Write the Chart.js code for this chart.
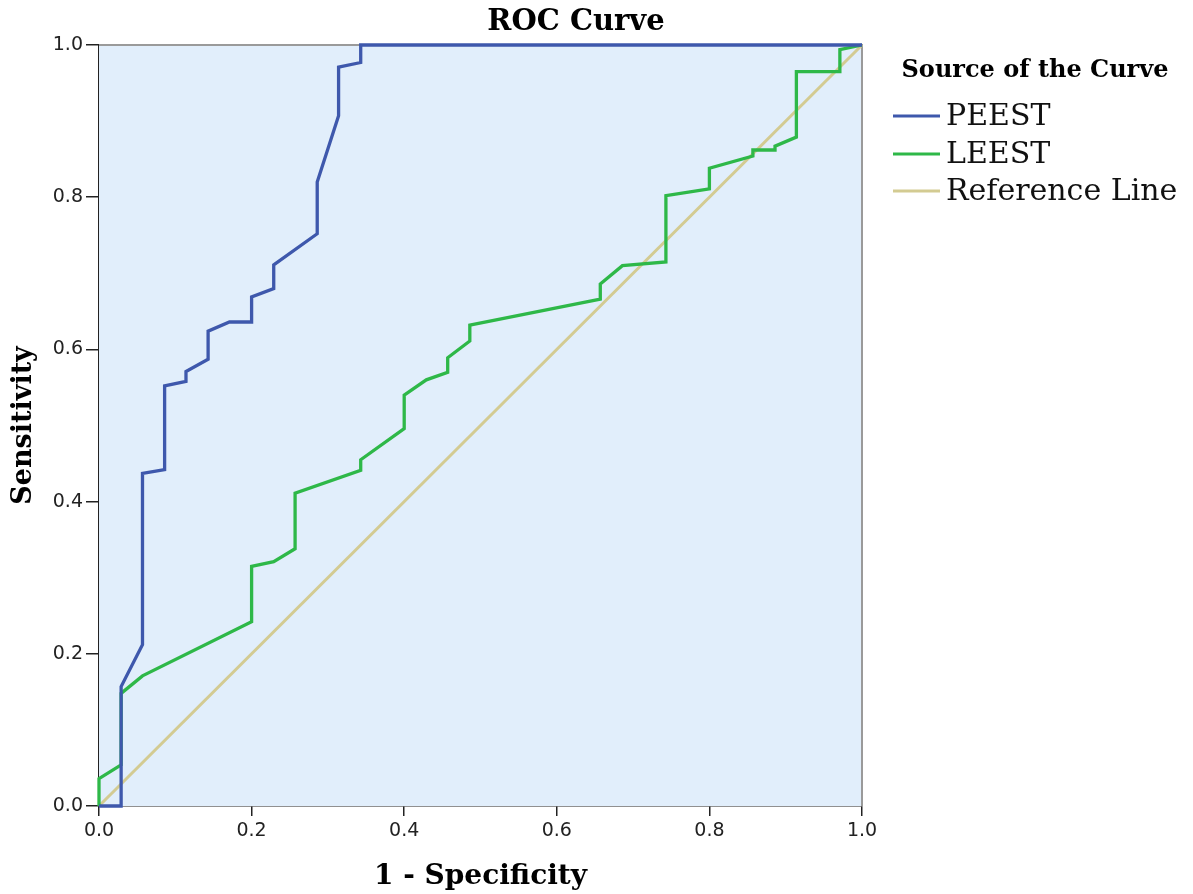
<!DOCTYPE html>
<html>
<head>
<meta charset="utf-8">
<title>ROC Curve</title>
<script src="https://cdn.jsdelivr.net/npm/chart.js@4.4.1/dist/chart.umd.min.js"></script>
<style>
  html, body { margin: 0; padding: 0; background: #fff; }
</style>
</head>
<body>
<canvas id="roc" width="1193" height="894"></canvas>
<script>
// values
const chartTitle = 'ROC Curve';
const legendTitle = 'Source of the Curve';
const xTitle = '1 - Specificity';
const yTitle = 'Sensitivity';
const tickValues = [0, 0.2, 0.4, 0.6, 0.8, 1.0];

const peestX = [0, 0.029, 0.029, 0.057, 0.057, 0.086, 0.086, 0.114, 0.114, 0.143, 0.143, 0.171, 0.2, 0.2, 0.229, 0.229, 0.286, 0.286, 0.314, 0.314, 0.343, 0.343, 1];
const peestY = [0, 0, 0.157, 0.212, 0.437, 0.442, 0.552, 0.558, 0.571, 0.587, 0.624, 0.636, 0.636, 0.669, 0.680, 0.711, 0.752, 0.820, 0.907, 0.971, 0.977, 1, 1];

const leestX = [0, 0, 0.029, 0.029, 0.057, 0.2, 0.2, 0.229, 0.257, 0.257, 0.343, 0.343, 0.4, 0.4, 0.429, 0.457, 0.457, 0.486, 0.486, 0.657, 0.657, 0.686, 0.743, 0.743, 0.8, 0.8, 0.857, 0.857, 0.886, 0.886, 0.914, 0.914, 0.971, 0.971, 1];
const leestY = [0, 0.036, 0.054, 0.148, 0.171, 0.242, 0.315, 0.321, 0.338, 0.411, 0.441, 0.455, 0.496, 0.540, 0.560, 0.570, 0.589, 0.611, 0.632, 0.666, 0.686, 0.710, 0.715, 0.802, 0.811, 0.838, 0.854, 0.862, 0.862, 0.867, 0.879, 0.965, 0.965, 0.994, 1];

const refX = [0, 1];
const refY = [0, 1];

const seriesNames = ['PEEST', 'LEEST', 'Reference Line'];
const seriesColors = ['#3E58AC', '#2EB848', '#D3CB92'];

function pts(xs, ys) {
    return xs.map((x, i) => ({ x: x, y: ys[i] }));
}

const serif = '"DejaVu Serif", "Liberation Serif", serif';
const sans = '"DejaVu Sans", "Liberation Sans", sans-serif';

// background, frame, title and legend
const decor = {
    id: 'decor',
    beforeDatasetsDraw(chart) {
        const c = chart.ctx;
        const a = chart.chartArea;
        c.save();
        c.fillStyle = '#E1EEFB';
        c.fillRect(a.left, a.top, a.right - a.left, a.bottom - a.top);
        c.strokeStyle = '#9A9A9A';
        c.lineWidth = 2;
        c.beginPath();
        c.moveTo(a.left, a.top);
        c.lineTo(a.right, a.top);
        c.lineTo(a.right, a.bottom);
        c.stroke();
        c.restore();
    },
    afterDraw(chart) {
        const c = chart.ctx;
        c.save();
        c.fillStyle = '#000';
        c.textAlign = 'center';
        c.textBaseline = 'middle';
        c.font = 'bold 29px ' + serif;
        c.fillText(chartTitle, 576, 22);

        c.font = 'bold 24px ' + serif;
        c.fillText(legendTitle, 1035, 71);

        c.textAlign = 'left';
        c.font = '30px ' + serif;
        const rows = [116, 154, 191];
        chart.data.datasets.forEach((ds, i) => {
            c.strokeStyle = ds.borderColor;
            c.lineWidth = 3;
            c.beginPath();
            c.moveTo(893, rows[i]);
            c.lineTo(940, rows[i]);
            c.stroke();
            c.fillStyle = '#111';
            c.fillText(ds.label, 946, rows[i] + 1);
        });
        c.restore();
    }
};

const ctx = document.getElementById('roc').getContext('2d');
const rocChart = new Chart(ctx, {
    type: 'scatter',
    data: {
        datasets: [
            { label: seriesNames[0], data: pts(peestX, peestY), borderColor: seriesColors[0], borderWidth: 3.3, order: 1 },
            { label: seriesNames[1], data: pts(leestX, leestY), borderColor: seriesColors[1], borderWidth: 3.3, order: 2 },
            { label: seriesNames[2], data: pts(refX, refY), borderColor: seriesColors[2], borderWidth: 3, order: 3 }
        ].map(ds => Object.assign(ds, { showLine: true, pointRadius: 0, fill: false, tension: 0, clip: 6, backgroundColor: ds.borderColor }))
    },
    options: {
        responsive: false,
        animation: false,
        devicePixelRatio: 1,
        layout: { padding: { top: 45, right: 331, bottom: 0, left: 0 } },
        plugins: {
            legend: { display: false },
            title: { display: false },
            tooltip: { enabled: false }
        },
        scales: {
            x: {
                type: 'linear',
                min: 0,
                max: 1,
                afterFit: (s) => { s.height = 88; },
                afterBuildTicks: (s) => { s.ticks = tickValues.map(v => ({ value: v })); },
                ticks: {
                    color: '#222',
                    font: { family: sans, size: 19 },
                    padding: 4,
                    maxRotation: 0,
                    callback: (v) => v.toFixed(1)
                },
                grid: { drawOnChartArea: false, drawTicks: true, tickLength: 10, color: '#222', lineWidth: 1.5 },
                border: { display: true, color: '#222', width: 1.5 },
                title: {
                    display: true,
                    text: xTitle,
                    color: '#000',
                    font: { family: serif, size: 28, weight: 'bold' },
                    padding: { top: 0, bottom: 0 }
                }
            },
            y: {
                type: 'linear',
                min: 0,
                max: 1,
                afterFit: (s) => { s.width = 99; },
                afterBuildTicks: (s) => { s.ticks = tickValues.map(v => ({ value: v })); },
                ticks: {
                    color: '#222',
                    font: { family: sans, size: 19 },
                    padding: 3,
                    callback: (v) => v.toFixed(1)
                },
                grid: { drawOnChartArea: false, drawTicks: true, tickLength: 13, color: '#222', lineWidth: 1.5 },
                border: { display: true, color: '#222', width: 1.5 },
                title: {
                    display: true,
                    text: yTitle,
                    color: '#000',
                    font: { family: serif, size: 27, weight: 'bold' },
                    padding: { top: 8, bottom: 0 }
                }
            }
        }
    },
    plugins: [decor]
});
</script>
</body>
</html>
